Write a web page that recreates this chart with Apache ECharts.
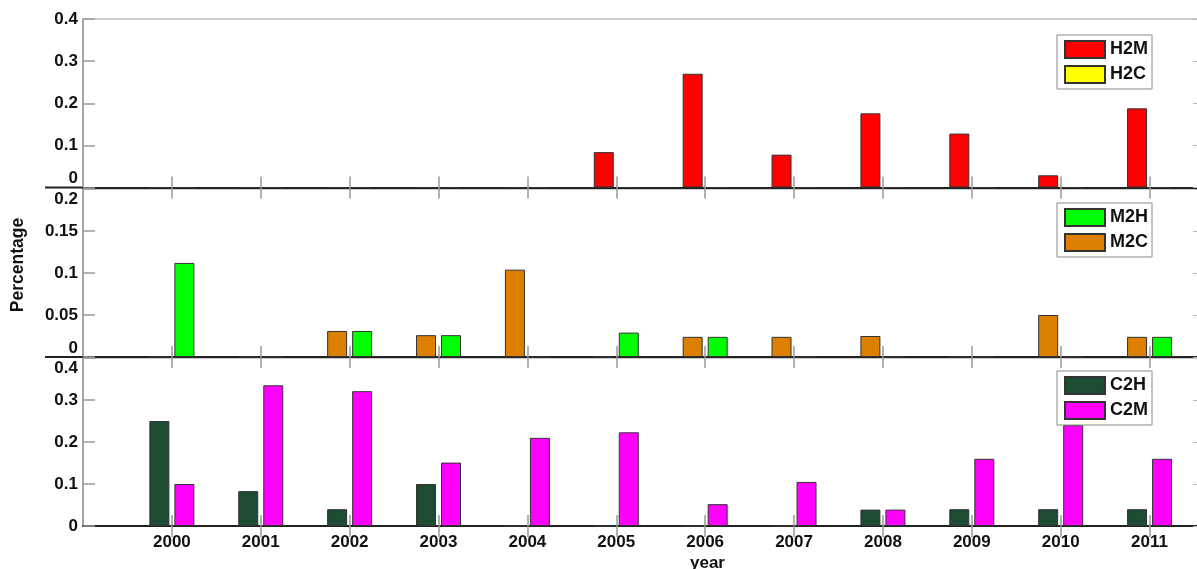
<!DOCTYPE html>
<html><head><meta charset="utf-8">
<script src="https://cdn.jsdelivr.net/npm/echarts@6/dist/echarts.min.js"></script>
<style>html,body{margin:0;padding:0;background:#fff}#c{width:1197px;height:569px}</style>
</head><body><div id="c"></div>
<script>
// ---- data ----
const years = [2000, 2001, 2002, 2003, 2004, 2005, 2006, 2007, 2008, 2009, 2010, 2011];
const h2m = [0, 0, 0, 0, 0, 0.084, 0.270, 0.078, 0.176, 0.128, 0.029, 0.188];
const h2c = [0, 0, 0, 0, 0, 0, 0, 0, 0, 0, 0, 0];
const m2c = [0, 0, 0.031, 0.026, 0.104, 0, 0.024, 0.024, 0.025, 0, 0.050, 0.024];
const m2h = [0.112, 0, 0.031, 0.026, 0, 0.029, 0.024, 0, 0, 0, 0, 0.024];
const c2h = [0.250, 0.083, 0.040, 0.100, 0, 0, 0, 0, 0.039, 0.040, 0.040, 0.040];
const c2m = [0.100, 0.335, 0.321, 0.151, 0.210, 0.223, 0.052, 0.105, 0.039, 0.160, 0.240, 0.160];
const yTicks1 = [0, 0.1, 0.2, 0.3, 0.4];
const yTicks2 = [0, 0.05, 0.1, 0.15, 0.2];
const yTicks3 = [0, 0.1, 0.2, 0.3, 0.4];

const FONT = "'Liberation Sans', Arial, sans-serif";
const chart = echarts.init(document.getElementById('c'));

const grids = [
  {left: 83, right: -5, top: 19, height: 168.5},
  {left: 83, right: -5, top: 189, height: 168},
  {left: 83, right: -5, top: 358, height: 168}
].map(g => Object.assign(g, {show: true, borderColor: '#9a9a9a', borderWidth: 1, containLabel: false, outerBoundsMode: 'none'}));

const X_MIN = 1999, X_MAX = 2011.59;
function xBottom(gi, showLabels) {
  return {
    type: 'value', gridIndex: gi, position: 'bottom', min: X_MIN, max: X_MAX, interval: 1,
    axisLine: {show: true, onZero: false, lineStyle: {color: '#222', width: 2}},
    axisTick: {show: true, inside: true, length: 11, customValues: years, lineStyle: {color: '#999', width: 1.5}},
    splitLine: {show: false},
    axisLabel: {
      show: showLabels, margin: 8, color: '#111', fontFamily: FONT, fontWeight: 'bold', fontSize: 17,
      customValues: years,
      formatter: v => String(v)
    },
    name: showLabels ? 'year' : '', nameLocation: 'middle', nameGap: 29,
    nameTextStyle: {color: '#111', fontFamily: FONT, fontWeight: 'bold', fontSize: 17, padding: [0, 0, 0, 130]}
  };
}
function xTop(gi) {
  return {
    type: 'value', gridIndex: gi, position: 'top', min: X_MIN, max: X_MAX, interval: 1,
    axisLine: {show: false},
    axisTick: {show: true, inside: true, length: 11, customValues: years, lineStyle: {color: '#999', width: 1.5}},
    axisLabel: {show: false}, splitLine: {show: false}
  };
}
function yLeft(gi, ticks, upZero, downTop, extra) {
  const max = ticks[ticks.length - 1];
  return Object.assign({
    type: 'value', gridIndex: gi, position: 'left', min: ticks[0], max: max, interval: ticks[1] - ticks[0],
    axisLine: {show: true, lineStyle: {color: '#999', width: 1.5}},
    axisTick: {show: true, inside: true, length: 12, lineStyle: {color: '#999', width: 1.5}},
    splitLine: {show: false},
    axisLabel: {
      margin: 5, color: '#111', fontFamily: FONT, fontWeight: 'bold', fontSize: 17,
      formatter: v => {
        const s = String(+v.toFixed(3));
        if (upZero && v === 0) return '{up|' + s + '}';
        if (downTop && Math.abs(v - max) < 1e-9) return '{dn|' + s + '}';
        return s;
      },
      rich: {
        up: {padding: [0, 0, 18, 0], color: '#111', fontFamily: FONT, fontWeight: 'bold', fontSize: 17},
        dn: {padding: [20, 0, 0, 0], color: '#111', fontFamily: FONT, fontWeight: 'bold', fontSize: 17}
      }
    }
  }, extra || {});
}
function yRight(gi, ticks) {
  return {
    type: 'value', gridIndex: gi, position: 'right', min: ticks[0], max: ticks[ticks.length - 1], interval: ticks[1] - ticks[0],
    axisLine: {show: false},
    axisTick: {show: true, inside: true, length: 9, lineStyle: {color: '#bbb', width: 1}},
    axisLabel: {show: false}, splitLine: {show: false}
  };
}

function barSeries(name, vals, color, xi, yi) {
  return {
    type: 'bar', name: name, xAxisIndex: xi, yAxisIndex: yi,
    barWidth: 20, barGap: '25%',
    itemStyle: {color: color, borderColor: '#333', borderWidth: 1},
    data: years.map((y, i) => [y, vals[i]]),
    silent: true, animation: false
  };
}
function legend(names, top) {
  return {
    data: names, orient: 'vertical', right: 45, top: top,
    backgroundColor: '#fff', borderColor: '#888', borderWidth: 1,
    padding: [5, 4, 5, 7], itemWidth: 40, itemHeight: 17, itemGap: 6, icon: 'rect',
    selectedMode: false,
    textStyle: {color: '#111', fontFamily: FONT, fontWeight: 'bold', fontSize: 18}
  };
}

chart.setOption({
  animation: false,
  backgroundColor: '#fff',
  grid: grids,
  xAxis: [xBottom(0, false), xTop(0), xBottom(1, false), xTop(1), xBottom(2, true), xTop(2)],
  yAxis: [
    yLeft(0, yTicks1, true, false), yRight(0, yTicks1),
    yLeft(1, yTicks2, true, true, {
      name: 'Percentage', nameLocation: 'middle', nameGap: 56, nameRotate: 90,
      nameTextStyle: {color: '#111', fontFamily: FONT, fontWeight: 'bold', fontSize: 17.5, padding: [0, 0, 0, 16]}
    }), yRight(1, yTicks2),
    yLeft(2, yTicks3, false, true), yRight(2, yTicks3)
  ],
  legend: [legend(['H2M', 'H2C'], 35), legend(['M2H', 'M2C'], 203), legend(['C2H', 'C2M'], 371)],
  series: [
    barSeries('H2M', h2m, '#ff0000', 0, 0),
    barSeries('H2C', h2c, '#ffff00', 0, 0),
    barSeries('M2C', m2c, '#dd7f00', 2, 2),
    barSeries('M2H', m2h, '#00ff00', 2, 2),
    barSeries('C2H', c2h, '#1d4b33', 4, 4),
    barSeries('C2M', c2m, '#ff00ff', 4, 4)
  ]
});

// extend the zero lines of the upper two panels to the left of the y axis
const g = [];
[0, 1].forEach(gi => {
  const p = chart.convertToPixel({gridIndex: gi}, [X_MIN, 0]);
  g.push({type: 'line', shape: {x1: 45, y1: p[1], x2: p[0], y2: p[1]}, style: {stroke: '#222', lineWidth: 2}, silent: true});
});
chart.setOption({graphic: g});
</script></body></html>
